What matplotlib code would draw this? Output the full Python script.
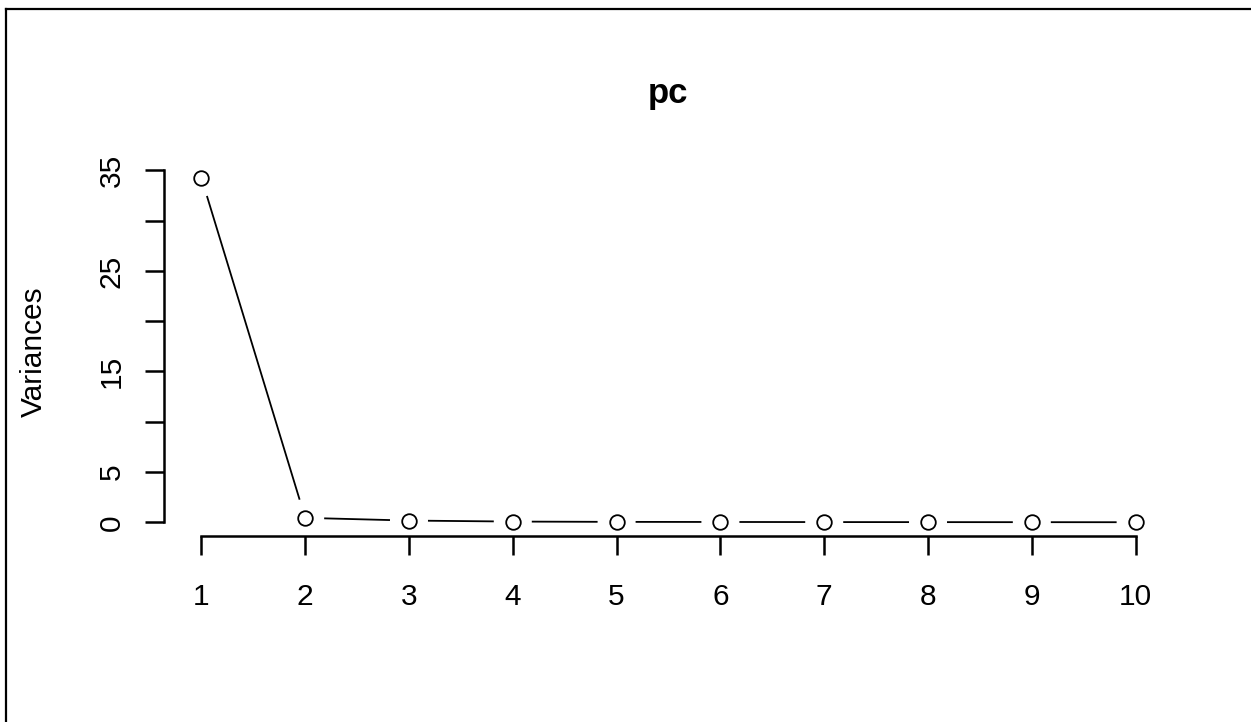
import matplotlib
matplotlib.use('Agg')
import matplotlib.pyplot as plt
import numpy as np
from matplotlib.lines import Line2D

plt.rcParams['font.family'] = ['Liberation Sans', 'DejaVu Sans']

components = np.arange(1, 11)   # principal components
variances = [34.27, 0.44, 0.17, 0.07, 0.04, 0.03, 0.02, 0.015, 0.01, 0.005]
yticks = [0, 5, 10, 15, 20, 25, 30, 35]
ytick_labels = ['0', '5', '', '15', '', '25', '', '35']

W, H = 1251, 722
fig = plt.figure(figsize=(W / 100, H / 100), dpi=100)
# plot region in pixels: left 164, right 1173, top 164, bottom 536
ax = fig.add_axes([164 / W, 1 - 536 / H, (1173 - 164) / W, (536 - 164) / H])

# R style 4% padding
xr = components[-1] - components[0]
ax.set_xlim(components[0] - 0.04 * xr, components[-1] + 0.04 * xr)
yr = max(variances) - min(variances)
ax.set_ylim(min(variances) - 0.04 * yr, max(variances) + 0.04 * yr)

# type="b": points with gaps in the connecting lines
pts = ax.transData.transform(np.column_stack([components, variances]))
gap = 19  # px
for i in range(len(pts) - 1):
    p0, p1 = pts[i], pts[i + 1]
    d = p1 - p0
    L = np.hypot(*d)
    if L <= 2 * gap:
        continue
    u = d / L
    seg = np.array([p0 + u * gap, p1 - u * gap])
    seg = ax.transData.inverted().transform(seg)
    ax.plot(seg[:, 0], seg[:, 1], color='black', lw=1.3, solid_capstyle='butt')
ax.plot(components, variances, 'o', ms=10.5, mfc='white', mec='black', mew=1.3,
        linestyle='none')

# axes like R
for s in ['top', 'right']:
    ax.spines[s].set_visible(False)
ax.spines['left'].set_bounds(0, 35)
ax.spines['bottom'].set_bounds(1, 10)
ax.spines['left'].set_linewidth(1.8)
ax.spines['bottom'].set_linewidth(1.8)
ax.set_xticks(components)
ax.set_xticklabels([str(c) for c in components])
ax.set_yticks(yticks)
ax.set_yticklabels(ytick_labels, rotation=90, va='center')
ax.tick_params(axis='both', length=13.7, width=1.8, labelsize=21.5)
ax.tick_params(axis='x', pad=20)
ax.tick_params(axis='y', pad=14)

ax.set_title('pc', fontsize=25, fontweight='bold', pad=44)
fig.text(34 / W, 1 - 352 / H, 'Variances', rotation=90, fontsize=21.5,
         ha='center', va='center')

# outer frame (partly cropped)
fig.add_artist(Line2D([6 / W, 6 / W], [0, 1 - 9 / H], transform=fig.transFigure,
                      color='black', lw=1.6))
fig.add_artist(Line2D([6 / W, 1], [1 - 9 / H, 1 - 9 / H], transform=fig.transFigure,
                      color='black', lw=1.6))

fig.savefig('out.png', dpi=100)
